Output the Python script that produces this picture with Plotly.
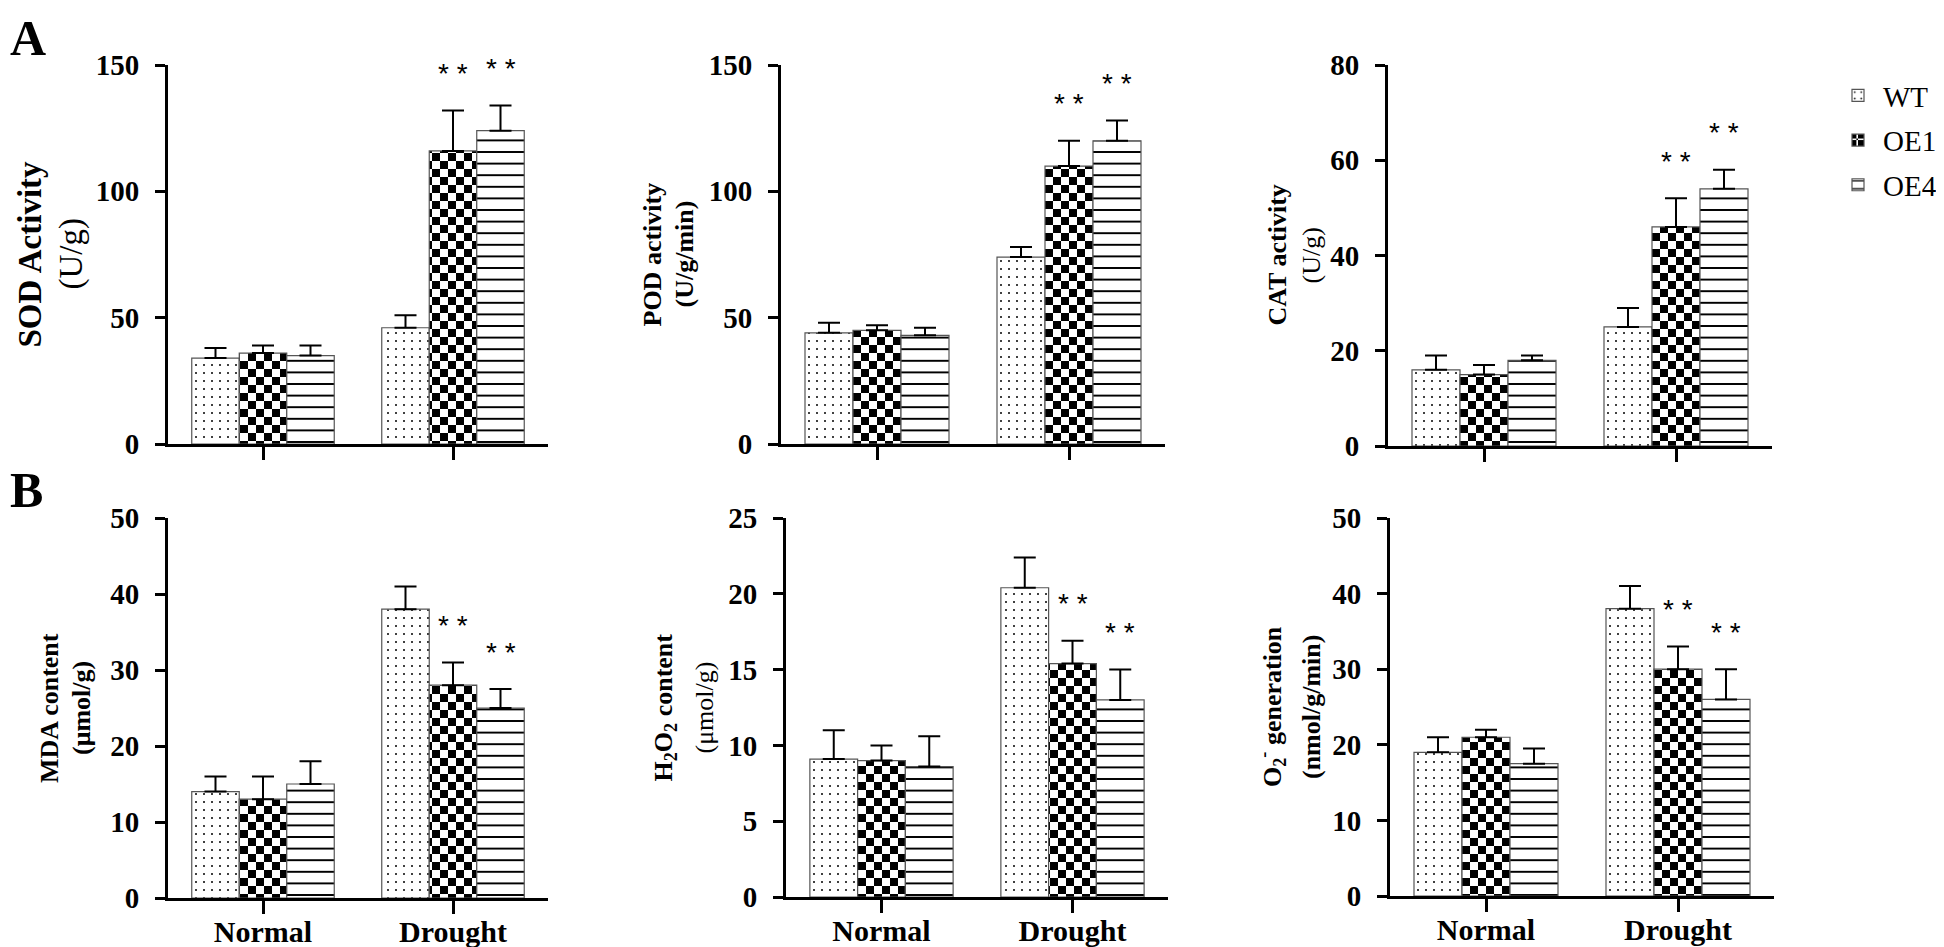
import plotly.graph_objects as go

# ---------------- data ----------------
categories = ["Normal", "Drought"]
series_names = ["WT", "OE1", "OE4"]

# A1: SOD activity (U/g)
sod_wt = [34, 46];     sod_wt_err = [4, 5]
sod_oe1 = [36, 116];   sod_oe1_err = [3, 16]
sod_oe4 = [35, 124];   sod_oe4_err = [4, 10]
# A2: POD activity (U/g/min)
pod_wt = [44, 74];     pod_wt_err = [4, 4]
pod_oe1 = [45, 110];   pod_oe1_err = [2, 10]
pod_oe4 = [43, 120];   pod_oe4_err = [3, 8]
# A3: CAT activity (U/g)
cat_wt = [16, 25];     cat_wt_err = [3, 4]
cat_oe1 = [15, 46];    cat_oe1_err = [2, 6]
cat_oe4 = [18, 54];    cat_oe4_err = [1, 4]
# B1: MDA content (umol/g)
mda_wt = [14, 38];     mda_wt_err = [2, 3]
mda_oe1 = [13, 28];    mda_oe1_err = [3, 3]
mda_oe4 = [15, 25];    mda_oe4_err = [3, 2.5]
# B2: H2O2 content (umol/g)
h2o2_wt = [9.1, 20.4]; h2o2_wt_err = [1.9, 2.0]
h2o2_oe1 = [9.0, 15.4]; h2o2_oe1_err = [1.0, 1.5]
h2o2_oe4 = [8.6, 13.0]; h2o2_oe4_err = [2.0, 2.0]
# B3: O2- generation (nmol/g/min)
o2_wt = [19, 38];      o2_wt_err = [2, 3]
o2_oe1 = [21, 30];     o2_oe1_err = [1, 3]
o2_oe4 = [17.5, 26];   o2_oe4_err = [2, 4]

# significance marks (per series, per category)
sig_wt = ["", ""]
sig_oe1 = ["", "**"]
sig_oe4 = ["", "**"]

# y-axis ticks
sod_ticks = [0, 50, 100, 150]
pod_ticks = [0, 50, 100, 150]
cat_ticks = [0, 20, 40, 60, 80]
mda_ticks = [0, 10, 20, 30, 40, 50]
h2o2_ticks = [0, 5, 10, 15, 20, 25]
o2_ticks = [0, 10, 20, 30, 40, 50]

# ---------------- styles ----------------
W, H = 1944, 947
SERIF = "Liberation Serif, Times New Roman, serif"
BARGAP = 0.25

patterns = [
    dict(shape=".", size=8, solidity=0.05, fgcolor="black", bgcolor="white"),
    dict(path="M0,0H8V8H0ZM8,8H16V16H8Z", size=16, fgcolor="black", bgcolor="white"),
    dict(shape="-", size=11.6, solidity=0.17, fgcolor="black", bgcolor="white"),
]

panels = [
    dict(means=[sod_wt, sod_oe1, sod_oe4], errs=[sod_wt_err, sod_oe1_err, sod_oe4_err],
         ticks=sod_ticks, xpx=(160, 540), ypx=(57, 436),
         t1="SOD Activity", t2="(U/g)", t1x=22, t2x=63, tsize=33, t2bold=False, showx=False),
    dict(means=[pod_wt, pod_oe1, pod_oe4], errs=[pod_wt_err, pod_oe1_err, pod_oe4_err],
         ticks=pod_ticks, xpx=(773, 1157), ypx=(57, 436),
         t1="POD activity", t2="(U/g/min)", t1x=644, t2x=676, tsize=26, t2bold=True, showx=False),
    dict(means=[cat_wt, cat_oe1, cat_oe4], errs=[cat_wt_err, cat_oe1_err, cat_oe4_err],
         ticks=cat_ticks, xpx=(1380, 1764), ypx=(57, 438),
         t1="CAT activity", t2="(U/g)", t1x=1269, t2x=1303, tsize=26, t2bold=False, showx=False),
    dict(means=[mda_wt, mda_oe1, mda_oe4], errs=[mda_wt_err, mda_oe1_err, mda_oe4_err],
         ticks=mda_ticks, xpx=(160, 540), ypx=(510, 890),
         t1="MDA content", t2="(μmol/g)", t1x=41, t2x=73, tsize=26, t2bold=True, showx=True),
    dict(means=[h2o2_wt, h2o2_oe1, h2o2_oe4], errs=[h2o2_wt_err, h2o2_oe1_err, h2o2_oe4_err],
         ticks=h2o2_ticks, xpx=(778, 1160), ypx=(510, 889),
         t1="H<sub>2</sub>O<sub>2</sub> content", t2="(μmol/g)", t1x=656, t2x=696, tsize=26, t2bold=False, showx=True),
    dict(means=[o2_wt, o2_oe1, o2_oe4], errs=[o2_wt_err, o2_oe1_err, o2_oe4_err],
         ticks=o2_ticks, xpx=(1382, 1766), ypx=(510, 888),
         t1="O<sub>2</sub><sup>-</sup> generation", t2="(nmol/g/min)", t1x=1264, t2x=1303, tsize=26, t2bold=True, showx=True),
]
sigs = [sig_wt, sig_oe1, sig_oe4]

fig = go.Figure()
annotations = []
layout_axes = {}

bar_w = (1 - BARGAP) / len(series_names)
offsets = [(i - (len(series_names) - 1) / 2) * bar_w for i in range(len(series_names))]

for p_i, p in enumerate(panels):
    n = "" if p_i == 0 else str(p_i + 1)
    xa, ya = "x" + n, "y" + n
    for s_i, name in enumerate(series_names):
        fig.add_trace(go.Bar(
            x=categories, y=p["means"][s_i], name=name,
            xaxis=xa, yaxis=ya,
            legendgroup=name, showlegend=(p_i == 0),
            marker=dict(color="white", pattern=patterns[s_i],
                        line=dict(color="#555555", width=1.2)),
            error_y=dict(type="data", array=p["errs"][s_i], arrayminus=[0] * len(categories),
                         symmetric=False, color="black", thickness=2, width=11),
        ))
        for c_i, cat in enumerate(categories):
            mark = sigs[s_i][c_i]
            if mark:
                annotations.append(dict(
                    x=c_i + offsets[s_i], y=p["means"][s_i][c_i] + p["errs"][s_i][c_i],
                    xref=xa, yref=ya, text="* *", showarrow=False,
                    yanchor="middle", yshift=37,
                    font=dict(family="Liberation Sans, Arial", size=28, color="black")))
    x0, x1 = p["xpx"]
    y0, y1 = p["ypx"]
    layout_axes["xaxis" + n] = dict(
        domain=[x0 / W, x1 / W], anchor=ya, type="category", automargin=False,
        categoryorder="array", categoryarray=categories, range=[-0.5, 1.5],
        showline=True, linewidth=3, linecolor="black", ticks="outside", ticklen=13,
        tickwidth=3, tickcolor="black", showgrid=False, zeroline=False,
        showticklabels=p["showx"], ticklabelstandoff=-8,
        tickfont=dict(family=SERIF, size=30, color="black", weight="bold"))
    layout_axes["yaxis" + n] = dict(
        domain=[1 - y1 / H, 1 - y0 / H], anchor=xa, automargin=False,
        range=[0, p["ticks"][-1]], tickvals=p["ticks"],
        showline=True, linewidth=3, linecolor="black", ticks="outside", ticklen=10,
        tickwidth=3, tickcolor="black", showgrid=False, zeroline=False,
        ticklabelstandoff=10,
        tickfont=dict(family=SERIF, size=29, color="black", weight="bold"))
    yc = 1 - (y0 + y1) / 2 / H
    annotations.append(dict(x=p["t1x"] / W, y=yc, xref="paper", yref="paper",
                            text="<b>" + p["t1"] + "</b>", textangle=-90, showarrow=False,
                            xanchor="center", yanchor="middle",
                            font=dict(family=SERIF, size=p["tsize"], color="black")))
    t2 = "<b>" + p["t2"] + "</b>" if p["t2bold"] else p["t2"]
    annotations.append(dict(x=p["t2x"] / W, y=yc, xref="paper", yref="paper",
                            text=t2, textangle=-90, showarrow=False,
                            xanchor="center", yanchor="middle",
                            font=dict(family=SERIF, size=p["tsize"], color="black")))

# panel letters
annotations.append(dict(x=0, y=1, xref="paper", yref="paper", text="<b>A</b>",
                        showarrow=False, xanchor="left", yanchor="top",
                        font=dict(family=SERIF, size=50, color="black")))
annotations.append(dict(x=0, y=1 - 452 / H, xref="paper", yref="paper", text="<b>B</b>",
                        showarrow=False, xanchor="left", yanchor="top",
                        font=dict(family=SERIF, size=50, color="black")))

fig.update_layout(
    template="none",
    width=W, height=H, margin=dict(l=0, r=0, t=0, b=0, pad=0, autoexpand=False),
    paper_bgcolor="white", plot_bgcolor="white",
    font=dict(family=SERIF, color="black"),
    barmode="group", bargap=BARGAP, bargroupgap=0,
    annotations=annotations,
    legend=dict(x=1825 / W, y=1 - 62 / H, xanchor="left", yanchor="top",
                font=dict(family=SERIF, size=29, color="black"),
                tracegroupgap=4, itemwidth=40, bgcolor="rgba(0,0,0,0)"),
    **layout_axes,
)

fig.write_html("out.html")
